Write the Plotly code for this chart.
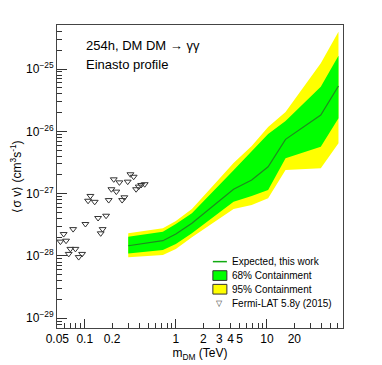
import math
import plotly.graph_objects as go

# expected limits, mass in TeV, <sigma v> in cm^3 s^-1
mass = [0.30, 0.72, 1.0, 1.5, 4.3, 6.8, 10.3, 16, 39, 61]
median = [1.46e-28, 1.76e-28, 2.25e-28, 3.35e-28, 1.18e-27, 1.66e-27, 2.71e-27, 7.46e-27, 1.83e-26, 5.36e-26]
green_hi = [2.04e-28, 2.45e-28, 3.27e-28, 4.84e-28, 2.38e-27, 4.84e-27, 9.08e-27, 1.47e-26, 5.21e-26, 1.64e-25]
green_lo = [1.10e-28, 1.25e-28, 1.56e-28, 2.31e-28, 7.45e-28, 9.18e-28, 1.15e-27, 3.70e-27, 5.68e-27, 1.62e-26]
yellow_hi = [2.31e-28, 2.79e-28, 3.65e-28, 5.67e-28, 3.11e-27, 5.83e-27, 1.18e-26, 2.05e-26, 1.24e-25, 3.98e-25]
yellow_lo = [9.53e-29, 1.04e-28, 1.30e-28, 2.0e-28, 5.67e-28, 6.59e-28, 8.43e-28, 2.40e-27, 2.56e-27, 6.44e-27]

# Fermi-LAT 5.8y (2015)
fermi_m = [0.054, 0.0586, 0.0623, 0.0745, 0.0695, 0.0789, 0.0666, 0.0857, 0.0934, 0.1016,
           0.1153, 0.1087, 0.1285, 0.140, 0.1714, 0.157, 0.1496, 0.183, 0.196, 0.222,
           0.208, 0.240, 0.257, 0.272, 0.296, 0.317, 0.344, 0.366, 0.391, 0.416, 0.455]
fermi_sv = [1.7e-28, 2.25e-28, 1.76e-28, 2.7e-28, 1.3e-28, 1.3e-28, 1.08e-28, 9.6e-29, 1.08e-28, 3.26e-28,
            9.2e-28, 7.7e-28, 7.4e-28, 4.07e-28, 4.43e-28, 2.7e-28, 2.31e-28, 7.9e-28, 1.18e-27, 1.08e-27,
            1.7e-27, 1.52e-27, 7.9e-28, 8.75e-28, 1.56e-27, 2.05e-27, 1.87e-27, 1.18e-27, 1.30e-27, 1.38e-27, 1.42e-27]

x_labels = {0.05: "0.05", 0.1: "0.1", 0.2: "0.2", 1: "1", 2: "2", 3: "3", 4: "4", 5: "5", 10: "10", 20: "20"}
x_ticks = [round(k * 10 ** n, 4) for n in (-2, -1, 0, 1) for k in range(1, 10) if 0.049 < k * 10 ** n < 69]
y_decades = [1e-29, 1e-28, 1e-27, 1e-26, 1e-25]
y_minor = [k * 10.0 ** n for n in range(-30, -24) for k in range(2, 10)]

legend_names = ["Expected, this work", "68% Containment", "95% Containment", "Fermi-LAT 5.8y (2015)"]

font = "Liberation Sans, Arial, sans-serif"
line_col = "#1f8a1f"

fig = go.Figure()
fig.add_trace(go.Scatter(x=mass + mass[::-1], y=yellow_hi + yellow_lo[::-1], fill="toself",
                         fillcolor="#ffff00", line=dict(width=0, color="#ffff00"), mode="lines",
                         name=legend_names[2], showlegend=False))
fig.add_trace(go.Scatter(x=mass + mass[::-1], y=green_hi + green_lo[::-1], fill="toself",
                         fillcolor="#00ff00", line=dict(width=0, color="#00ff00"), mode="lines",
                         name=legend_names[1], showlegend=False))
fig.add_trace(go.Scatter(x=mass, y=median, mode="lines", line=dict(color=line_col, width=1.2),
                         name=legend_names[0], showlegend=False))
fig.add_trace(go.Scatter(x=fermi_m, y=fermi_sv, mode="markers",
                         marker=dict(symbol="triangle-down-open", size=6, color="#333333",
                                     line=dict(width=1)),
                         name=legend_names[3], showlegend=False))

fig.update_xaxes(type="log", range=[-1.305, 1.835], automargin=False,
                 tickmode="array", tickvals=x_ticks,
                 ticktext=[x_labels.get(v, "") for v in x_ticks], tickangle=0,
                 ticks="inside", ticklen=5, tickcolor="#333",
                 minor=dict(tickmode="array", tickvals=[0.1, 1, 10], ticks="inside", ticklen=9,
                            tickcolor="#333", showgrid=False),
                 showline=True, mirror=True, linecolor="#444", linewidth=1, showgrid=False,
                 zeroline=False, tickfont=dict(size=12, color="black"),
                 title=dict(text="m<sub>DM</sub> (TeV)", font=dict(size=12, color="black"), standoff=2))
fig.update_yaxes(type="log", range=[-29.156, -24.292], automargin=False,
                 tickmode="array", tickvals=y_decades,
                 ticktext=["10<sup>−%d</sup>" % (-round(math.log10(v))) for v in y_decades],
                 ticks="inside", ticklen=10, tickcolor="#333",
                 minor=dict(tickmode="array", tickvals=y_minor, ticks="inside", ticklen=5,
                            tickcolor="#333", showgrid=False),
                 showline=True, mirror=True, linecolor="#444", linewidth=1, showgrid=False,
                 zeroline=False, tickfont=dict(size=12, color="black"),
                 title=dict(text="⟨σ v⟩ (cm<sup>3</sup>s<sup>-1</sup>)", font=dict(size=12, color="black"),
                            standoff=4))

fig.add_annotation(text="254h, DM DM → γγ", xref="paper", yref="paper", x=0.094, y=0.931,
                   xanchor="left", yanchor="middle", showarrow=False, font=dict(size=13, color="black"))
fig.add_annotation(text="Einasto profile", xref="paper", yref="paper", x=0.094, y=0.868,
                   xanchor="left", yanchor="middle", showarrow=False, font=dict(size=13, color="black"))

# hand-made legend (ROOT style, compact rows)
rows = [0.219, 0.173, 0.128, 0.0815]
sx0, sx1, tx = 0.545, 0.594, 0.605
for name, ry in zip(legend_names, rows):
    fig.add_annotation(text=name, xref="paper", yref="paper", x=tx, y=ry, xanchor="left",
                       yanchor="middle", showarrow=False, font=dict(size=10, color="black"))
fig.add_shape(type="line", xref="paper", yref="paper", x0=sx0, x1=sx1, y0=rows[0], y1=rows[0],
              line=dict(color="#11aa11", width=1.5))
for ry, col in ((rows[1], "#00ff00"), (rows[2], "#ffff00")):
    fig.add_shape(type="rect", xref="paper", yref="paper", x0=sx0, x1=sx1, y0=ry - 0.016, y1=ry + 0.016,
                  fillcolor=col, line=dict(color="#333333", width=1))
fig.add_annotation(text="▽", xref="paper", yref="paper", x=(sx0 + sx1) / 2, y=rows[3], xanchor="center",
                   yanchor="middle", showarrow=False, font=dict(size=8, color="#333333"))

# the page body keeps its default 8px margin, so the figure is 8px smaller than the window
fig.update_layout(width=374, height=357, margin=dict(l=49, r=39, t=17, b=37),
                  paper_bgcolor="white", plot_bgcolor="white",
                  font=dict(family=font, color="black"), showlegend=False)

fig.write_html("out.html")
